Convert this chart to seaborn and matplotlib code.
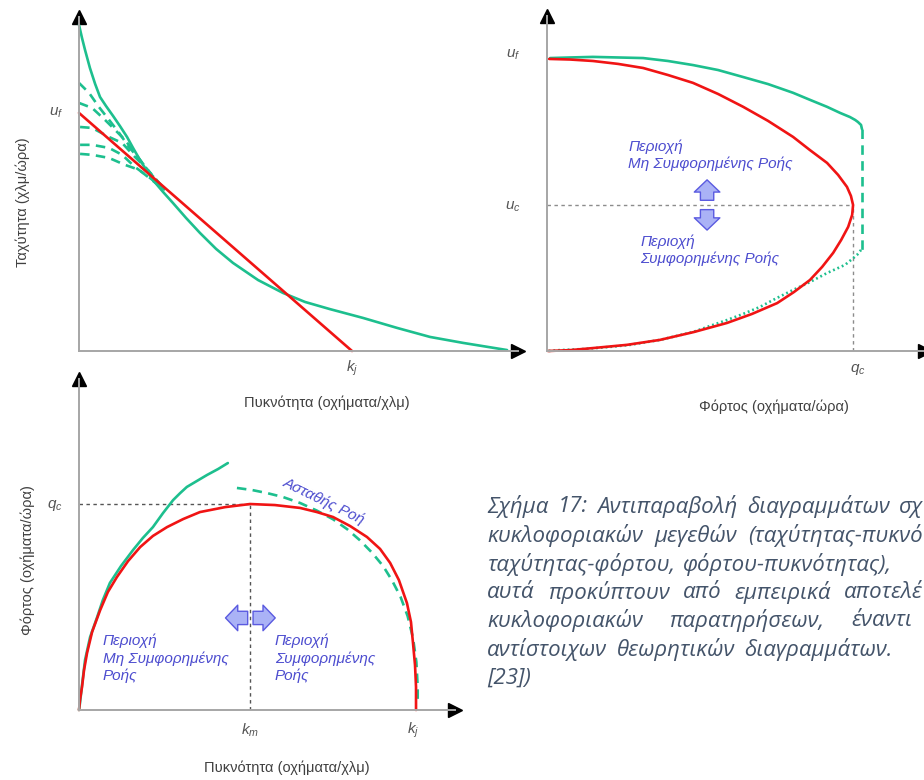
import os

import matplotlib

matplotlib.use("Agg")
import matplotlib.pyplot as plt
import seaborn as sns
from matplotlib import font_manager as fm

# colours
RED = "#f01414"
GREEN = "#1dbf8e"
BLUE_TXT = "#4d4dcf"
AXIS_GREY = "#a6a6a6"
LABEL_GREY = "#404040"
CAPTION = "#44546a"

# --- speed-density (top left): k_j = 100, u_f = 100 ---
sd_red_k = [0, 100]
sd_red_u = [100, 0]
sd_green_k = [0, 1.1, 2.2, 4.0, 5.9, 7.7, 9.9, 12.5, 15.0, 17.6, 19.8, 22.3, 24.9,
              27.1, 30.8, 34.4, 39.2, 44.3, 50.2, 56.4, 65.6, 74.7, 82.8, 91.9,
              104.0, 116.5, 128.6, 140.7, 156.8]
sd_green_u = [137.0, 131.5, 126.5, 118.9, 112.2, 106.7, 102.9, 98.7, 94.5, 89.9,
              85.3, 80.3, 75.6, 71.8, 66.8, 62.2, 55.9, 49.6, 42.9, 37.0, 29.8,
              24.4, 20.6, 17.6, 13.9, 9.7, 5.9, 3.4, 0.4]
sd_dash_k = [
    [0, 3.7, 7.3, 11.0, 14.7, 18.3, 22.3, 26.7, 31.5],
    [0, 4.8, 9.5, 13.2, 16.8, 20.5, 24.2, 27.8, 31.5],
    [0.4, 4.8, 11.0, 15.8, 20.5, 24.2, 27.8, 31.5],
    [0.4, 4.8, 11.0, 15.8, 20.5, 26.0, 31.5],
    [0.4, 4.8, 11.0, 16.8, 22.0, 26.7, 31.5],
]
sd_dash_u = [
    [112.6, 108.4, 102.5, 97.1, 91.6, 85.7, 80.3, 73.9, 67.6],
    [104.2, 102.1, 97.1, 92.9, 88.7, 83.2, 77.3, 72.3, 67.6],
    [94.1, 93.7, 89.9, 87.4, 81.5, 77.3, 72.7, 67.6],
    [86.6, 86.6, 85.3, 82.4, 77.3, 72.7, 67.6],
    [82.8, 82.4, 81.1, 78.2, 76.1, 71.8, 67.6],
]

# --- speed-flow (top right): q_c = 100, u_f = 100, u_c = 50 ---
sf_red_q = [0.7, 7.5, 15.0, 23.2, 31.4, 39.5, 47.7, 55.9, 64.1, 72.2, 80.4, 85.9,
            91.5, 95.1, 98.0, 99.3, 100, 99.7, 98.4, 96.1, 93.5, 89.9, 85.9, 80.7,
            75.2, 67.0, 58.8, 48.0, 36.9, 26.1, 15.0, 7.5, 0.3]
sf_red_u = [100, 99.8, 99.3, 98.3, 96.9, 94.5, 91.8, 88.0, 83.6, 78.8, 73.3, 68.8,
            64.4, 60.3, 56.2, 53.1, 50, 46.6, 42.5, 38.0, 33.6, 28.8, 24.3, 20.2,
            16.4, 12.7, 9.6, 6.5, 3.8, 2.1, 1.0, 0.3, 0]
sf_green_q = [1.0, 7.5, 15.0, 23.2, 31.4, 39.5, 47.7, 55.9, 64.1, 72.2, 80.4, 85.9,
              91.5, 95.8, 99.0, 100.7, 101.6, 102.6, 102.9]
sf_green_u = [100.3, 100.5, 100.7, 100.5, 100.3, 99.3, 97.9, 96.2, 93.8, 91.4, 88.4,
              86.0, 83.6, 81.5, 80.1, 79.1, 78.4, 77.4, 76.0]
sf_jump_q = [102.9, 102.9]
sf_jump_u = [76.0, 34.6]
sf_dot_q = [102.6, 101.3, 97.4, 91.5, 85.9, 80.4, 75.2, 69.6, 64.1, 58.8, 53.3,
            47.7, 36.9, 27.1, 20.6, 12.4, 4.2, 0.3]
sf_dot_u = [34.6, 32.9, 29.5, 26.7, 23.6, 20.9, 18.2, 15.1, 12.7, 10.6, 8.6, 6.5,
            3.8, 2.1, 1.4, 0.7, 0.3, 0]

# --- flow-density (bottom left): k_j = 100, q_c = 100 ---
fd_red_k = [0, 0.3, 0.9, 1.5, 2.4, 3.9, 6.3, 8.6, 11.3, 14.6, 18.2, 22.0, 26.2,
            31.0, 36.0, 43.5, 50.9, 58.3, 65.8, 70.8, 75.6, 80.7, 85.7, 89.6, 92.6,
            95.2, 97.6, 98.8, 99.4, 100.0, 100.3, 100.3]
fd_red_q = [0, 4.9, 11.2, 19.4, 27.7, 37.9, 48.5, 57.3, 64.6, 72.3, 79.1, 84.5,
            88.8, 92.7, 96.1, 98.5, 100, 99.5, 98.1, 96.1, 93.7, 89.3, 84.0, 78.2,
            71.4, 63.1, 51.9, 42.7, 32.5, 21.8, 11.2, 0]
fd_green_k = [0, 0.3, 0.9, 1.8, 3.3, 5.4, 7.1, 9.2, 12.5, 16.1, 19.0, 22.0, 25.0,
              28.0, 30.1, 32.1, 35.1, 38.1, 41.4, 44.3]
fd_green_q = [0, 3.4, 12.1, 24.3, 35.4, 45.1, 53.4, 61.7, 69.9, 77.7, 83.5, 88.8,
              95.6, 101.9, 105.3, 108.3, 111.2, 114.1, 117.0, 119.9]
fd_dash_k = [47.0, 51.5, 56.0, 60.7, 65.8, 70.8, 75.6, 79.8, 83.6, 87.2, 90.5, 93.2,
             95.7, 97.8, 99.4, 100.4, 100.8, 100.8]
fd_dash_q = [107.8, 106.8, 105.3, 103.4, 100.5, 96.8, 92.6, 87.8, 82.4, 76.4, 69.9,
             62.8, 54.9, 45.6, 35.0, 23.3, 11.2, 3.4]
k_m = 50.9

# caption as it shows inside the picture (cut at the right edge)
caption_lines = [
    "Σχήμα 17: Αντιπαραβολή διαγραμμάτων σχ",
    "κυκλοφοριακών μεγεθών (ταχύτητας-πυκνό",
    "ταχύτητας-φόρτου, φόρτου-πυκνότητας),",
    "αυτά προκύπτουν από εμπειρικά αποτελέ",
    "κυκλοφοριακών παρατηρήσεων, έναντι",
    "αντίστοιχων θεωρητικών διαγραμμάτων.",
    "[23])",
]

sns.set_theme(style="white")
plt.rcParams["font.family"] = ["Liberation Sans", "DejaVu Sans"]
plt.rcParams["mathtext.fontset"] = "custom"
plt.rcParams["mathtext.it"] = "Liberation Sans:italic"
plt.rcParams["mathtext.rm"] = "Liberation Sans"


def caption_font_file():
    # plain-width italic face (skip condensed / light / bold cuts)
    skip = ("cond", "semi", "light", "bold", "medium", "extra", "black", "thin")
    for name in ("Open Sans", "Noto Sans"):
        for f in fm.fontManager.ttflist:
            fn = os.path.basename(f.fname).lower()
            if f.name == name and f.style == "italic" and not any(s in fn for s in skip):
                return f.fname
    return None


W, H = 924, 780
fig = plt.figure(figsize=(W / 100, H / 100), dpi=100)
fig.patch.set_facecolor("white")


def px_axes(x0, y0, x1, y1):
    # x0,y0 = origin in pixels, x1 = right end, y1 = top end
    return fig.add_axes([x0 / W, (H - y0) / H, (x1 - x0) / W, (y0 - y1) / H])


def style_axes(ax, xmax, ymax):
    ax.set_xlim(0, xmax)
    ax.set_ylim(0, ymax)
    ax.set_facecolor("none")
    ax.set_xticks([])
    ax.set_yticks([])
    for side in ["top", "right"]:
        ax.spines[side].set_visible(False)
    for side in ["left", "bottom"]:
        ax.spines[side].set_color(AXIS_GREY)
        ax.spines[side].set_linewidth(1.4)
    ax.plot(1, 0, ">", color="black", ms=10, transform=ax.transAxes, clip_on=False)
    ax.plot(0, 1, "^", color="black", ms=10, transform=ax.transAxes, clip_on=False)


def line(ax, x, y, color, ls="-", lw=1.9):
    sns.lineplot(x=x, y=y, ax=ax, color=color, linewidth=lw, linestyle=ls,
                 sort=False, estimator=None, legend=False)
    ax.lines[-1].set_clip_on(False)
    ax.lines[-1].set_solid_joinstyle("round")


def block_arrow(ax, tail, tip):
    ax.annotate("", xy=tip, xytext=tail,
                arrowprops=dict(arrowstyle="simple,head_length=0.55,head_width=1.15,tail_width=0.6",
                                fc="#aab2f6", ec="#5a5ae0", lw=1.0, mutation_scale=16,
                                shrinkA=0, shrinkB=0))


lbl = dict(color=LABEL_GREY, fontsize=10.5)
sym = dict(color="#555555", fontsize=11, ha="center", va="center")
blue = dict(color=BLUE_TXT, fontsize=11, style="italic", ha="left", va="top",
            linespacing=1.25)
DASH = (0, (3.6, 2.4))

# ---------------- speed-density ----------------
ax1 = px_axes(79, 351, 518, 17)
style_axes(ax1, 160.8, 140.3)
for kk, uu in zip(sd_dash_k, sd_dash_u):
    line(ax1, kk, uu, GREEN, ls=DASH)
line(ax1, sd_green_k, sd_green_u, GREEN)
line(ax1, sd_red_k, sd_red_u, RED)
ax1.text(-8.4, 100, "$u_f$", **sym)
ax1.text(100, -7.1, "$k_j$", **sym)
ax1.text(-20.5, 62.6, "Ταχύτητα (χλμ/ώρα)", rotation=90, ha="center", va="center", **lbl)
ax1.text(90.8, -21.8, "Πυκνότητα (οχήματα/χλμ)", ha="center", va="center", **lbl)

# ---------------- speed-flow ----------------
ax2 = px_axes(547, 351, 925, 16)
style_axes(ax2, 123.5, 114.7)
ax2.plot([0, 100], [50, 50], color="#8c8c8c", lw=1.0, ls=(0, (2.5, 2.5)))
ax2.plot([100, 100], [0, 50], color="#8c8c8c", lw=1.0, ls=(0, (2.5, 2.5)))
line(ax2, sf_green_q, sf_green_u, GREEN)
line(ax2, sf_jump_q, sf_jump_u, GREEN, ls=DASH)
line(ax2, sf_dot_q, sf_dot_u, GREEN, ls=(0, (0.7, 1.1)))
line(ax2, sf_red_q, sf_red_u, RED)
ax2.text(-11.1, 101.4, "$u_f$", **sym)
ax2.text(-11.1, 49.3, "$u_c$", **sym)
ax2.text(101.6, -6.5, "$q_c$", **sym)
ax2.text(74.2, -19.2, "Φόρτος (οχήματα/ώρα)", ha="center", va="center", **lbl)
ax2.text(26.5, 72.5, "Περιοχή\nΜη Συμφορημένης Ροής", **blue)
ax2.text(30.4, 40.0, "Περιοχή\nΣυμφορημένης Ροής", **blue)
block_arrow(ax2, (52.3, 51.6), (52.3, 58.6))
block_arrow(ax2, (52.3, 48.4), (52.3, 41.4))

# ---------------- flow-density ----------------
ax3 = px_axes(79, 710, 455, 379)
style_axes(ax3, 111.9, 160.7)
ax3.plot([0, k_m], [100, 100], color="#555555", lw=1.0, ls=(0, (2.5, 2.5)))
ax3.plot([k_m, k_m], [0, 100], color="#555555", lw=1.0, ls=(0, (2.5, 2.5)))
line(ax3, fd_dash_k, fd_dash_q, GREEN, ls=DASH)
line(ax3, fd_green_k, fd_green_q, GREEN)
line(ax3, fd_red_k, fd_red_q, RED)
ax3.text(-7.1, 99.5, "$q_c$", **sym)
ax3.text(k_m, -9.7, "$k_m$", **sym)
ax3.text(99.4, -9.7, "$k_j$", **sym)
ax3.text(-15.2, 72.8, "Φόρτος (οχήματα/ώρα)", rotation=90, ha="center", va="center", **lbl)
ax3.text(61.9, -28.2, "Πυκνότητα (οχήματα/χλμ)", ha="center", va="center", **lbl)
ax3.text(73.0, 101.5, "Ασταθής Ροή", rotation=-26, color=BLUE_TXT, fontsize=11,
         style="italic", ha="center", va="center")
ax3.text(7.1, 37.0, "Περιοχή\nΜη Συμφορημένης\nΡοής", **blue)
ax3.text(58.3, 37.0, "Περιοχή\nΣυμφορημένης\nΡοής", **blue)
block_arrow(ax3, (50.2, 44.7), (43.6, 44.7))
block_arrow(ax3, (51.8, 44.7), (58.4, 44.7))

# ---------------- caption (justified word by word) ----------------
cap_left = 487
cap_right = [923, 923, 892, 923, 912, 893, None]
cap_file = caption_font_file()
if cap_file:
    cap_font = dict(fontproperties=fm.FontProperties(fname=cap_file, size=16))
else:
    cap_font = dict(family="DejaVu Sans", style="oblique", fontsize=14)
renderer = fig.canvas.get_renderer()
for i, (txt, right) in enumerate(zip(caption_lines, cap_right)):
    y = 1 - (507 + i * 28.5) / H
    words = txt.split()
    items = [fig.text(0, y, w, color=CAPTION, ha="left", va="center", **cap_font)
             for w in words]
    widths = [t.get_window_extent(renderer).width for t in items]
    if right is None or len(words) < 2:
        gap = 6
    else:
        gap = max(6, (right - cap_left - sum(widths)) / (len(words) - 1))
    x = cap_left
    for t, wd in zip(items, widths):
        t.set_x(x / W)
        x += wd + gap

fig.savefig("out.png", dpi=100, facecolor="white")
